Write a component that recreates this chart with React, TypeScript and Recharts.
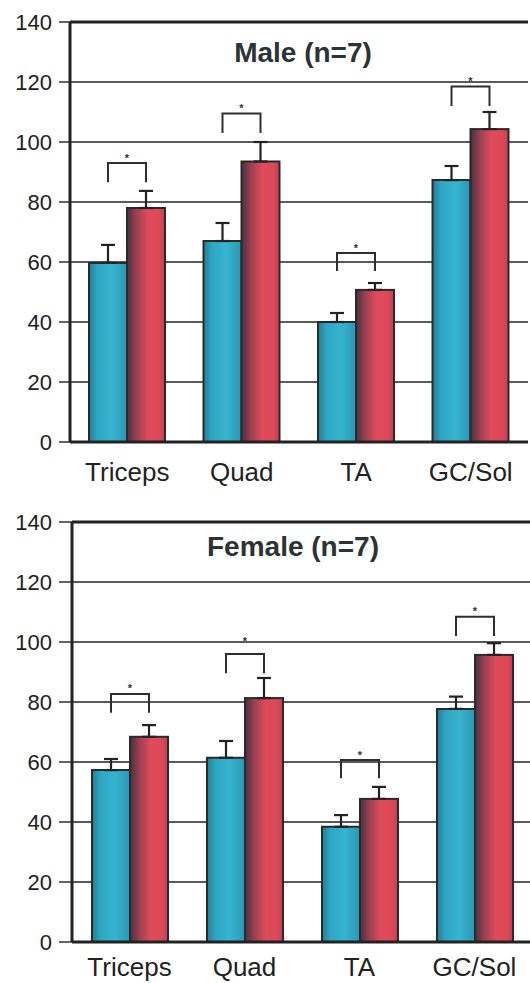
import React from 'react';
import {
  ComposedChart,
  Bar,
  XAxis,
  YAxis,
  CartesianGrid,
  ErrorBar,
  ReferenceLine,
} from 'recharts';

// ---------- data ----------
const categories = ['Triceps', 'Quad', 'TA', 'GC/Sol'];
const yTicks = [0, 20, 40, 60, 80, 100, 120, 140];

const maleTeal = [59.7, 67, 40, 87.3];
const maleTealErr = [6, 6, 3, 4.7];
const maleRed = [78, 93.5, 50.7, 104.3];
const maleRedErr = [5.7, 6.5, 2.3, 5.7];
const maleBracketTop = [93, 109.5, 63, 118.5];
const maleBracketLeg = [86.6, 103, 57, 112];
const maleStar = [94.5, 111, 64.5, 120];

const femaleTeal = [57.3, 61.4, 38.4, 77.7];
const femaleTealErr = [3.7, 5.6, 3.9, 4.1];
const femaleRed = [68.4, 81.3, 47.7, 95.7];
const femaleRedErr = [3.9, 6.7, 4, 3.9];
const femaleBracketTop = [82.7, 96, 60.7, 108.4];
const femaleBracketLeg = [76.4, 89.6, 54.6, 102];
const femaleStar = [84.5, 100, 62, 110];

const buildRows = (
  teal: number[], tealErr: number[], red: number[], redErr: number[],
  bTop: number[], bLeg: number[], star: number[]
) =>
  categories.map((name, i) => ({
    name,
    teal: teal[i],
    tealErr: [0, tealErr[i]],
    red: red[i],
    redErr: [0, redErr[i]],
    bTop: bTop[i],
    bLeg: bLeg[i],
    star: star[i],
  }));

const maleRows = buildRows(maleTeal, maleTealErr, maleRed, maleRedErr, maleBracketTop, maleBracketLeg, maleStar);
const femaleRows = buildRows(femaleTeal, femaleTealErr, femaleRed, femaleRedErr, femaleBracketTop, femaleBracketLeg, femaleStar);

const FONT = '"Liberation Sans", Arial, Helvetica, sans-serif';
const INK = '#222';

// red bar + significance bracket drawn from the bar's own geometry
const RedShape = (props: any) => {
  const { x, y, width, height, payload, fill } = props;
  if (height == null || !payload) return null;
  const v = payload.red;
  const pxPerUnit = height / v;
  const yOf = (val: number) => y + height - val * pxPerUnit;
  const xR = x + width / 2;
  const xL = x - width / 2;
  const yTop = yOf(payload.bTop);
  const yLeg = yOf(payload.bLeg);
  const yStar = yOf(payload.star);
  return (
    <g>
      <rect x={x} y={y} width={width} height={height} fill={fill} stroke="#2a2a2a" strokeWidth={2} />
      <path
        d={`M${xL},${yLeg} L${xL},${yTop} L${xR},${yTop} L${xR},${yLeg}`}
        fill="none"
        stroke="#2e2e2e"
        strokeWidth={2}
      />
      <text x={(xL + xR) / 2} y={yStar + 3} textAnchor="middle" fontSize={11} fontWeight="bold" fill="#333" fontFamily={FONT}>
        *
      </text>
    </g>
  );
};

const Panel = ({
  rows, width, height, top, axisW, tickSize, xTickMargin, xAxisH, id, gap,
}: any) => (
  <ComposedChart
    width={width}
    height={height}
    data={rows}
    margin={{ top, right: 0, left: 0, bottom: 0 }}
    barCategoryGap={gap}
    barGap={0}
  >
    <defs>
      <linearGradient id={`teal-${id}`} x1="0" y1="0" x2="1" y2="0">
        <stop offset="0%" stopColor="#247d96" />
        <stop offset="22%" stopColor="#2ea6c2" />
        <stop offset="60%" stopColor="#36b4cf" />
        <stop offset="100%" stopColor="#2b97b3" />
      </linearGradient>
      <linearGradient id={`red-${id}`} x1="0" y1="0" x2="1" y2="0">
        <stop offset="0%" stopColor="#4a3040" />
        <stop offset="25%" stopColor="#9c4050" />
        <stop offset="55%" stopColor="#e04b5b" />
        <stop offset="85%" stopColor="#dd4858" />
        <stop offset="100%" stopColor="#b54353" />
      </linearGradient>
    </defs>
    <CartesianGrid horizontal vertical={false} stroke={INK} strokeWidth={1.4} />
    <XAxis
      dataKey="name"
      tickLine={false}
      axisLine={{ stroke: INK, strokeWidth: 3 }}
      tick={{ fontSize: 26, fill: INK, fontFamily: FONT }}
      tickMargin={xTickMargin}
      height={xAxisH}
      interval={0}
    />
    <YAxis
      domain={[0, 140]}
      ticks={yTicks}
      interval={0}
      width={axisW}
      tickSize={tickSize}
      tickMargin={7}
      tickLine={{ stroke: INK, strokeWidth: 1.4 }}
      axisLine={{ stroke: INK, strokeWidth: 3 }}
      tick={{ fontSize: 22, fill: INK, fontFamily: FONT }}
    />
    <ReferenceLine y={140} stroke={INK} strokeWidth={3} />
    <Bar dataKey="teal" fill={`url(#teal-${id})`} stroke="#2a2a2a" strokeWidth={2} isAnimationActive={false}>
      <ErrorBar dataKey="tealErr" width={7} stroke={INK} strokeWidth={2.2} direction="y" />
    </Bar>
    <Bar dataKey="red" fill={`url(#red-${id})`} shape={RedShape} isAnimationActive={false}>
      <ErrorBar dataKey="redErr" width={7} stroke={INK} strokeWidth={2.2} direction="y" />
    </Bar>
  </ComposedChart>
);

const titleStyle = (top: number, center: number): React.CSSProperties => ({
  position: 'absolute',
  top,
  left: 0,
  width: center * 2,
  textAlign: 'center',
  fontFamily: FONT,
  fontWeight: 'bold',
  fontSize: 28,
  lineHeight: 1,
  color: '#2b3434',
  whiteSpace: 'nowrap',
});

export default function App() {
  return (
    <div
      style={{
        position: 'absolute',
        left: 0,
        top: 0,
        width: 530,
        height: 983,
        overflow: 'hidden',
        background: '#fff',
      }}
    >
      <div style={{ position: 'absolute', left: 0, top: 0 }}>
        <Panel rows={maleRows} width={528} height={490} top={22} axisW={70} tickSize={11} xTickMargin={15} xAxisH={48} id="m" gap={19} />
        <div style={titleStyle(39, 303)}>Male (n=7)</div>
      </div>
      <div style={{ position: 'absolute', left: 0, top: 490 }}>
        <Panel rows={femaleRows} width={532} height={493} top={32} axisW={72} tickSize={13} xTickMargin={10} xAxisH={41} id="f" gap={20} />
        <div style={titleStyle(43, 293)}>Female (n=7)</div>
      </div>
    </div>
  );
}
